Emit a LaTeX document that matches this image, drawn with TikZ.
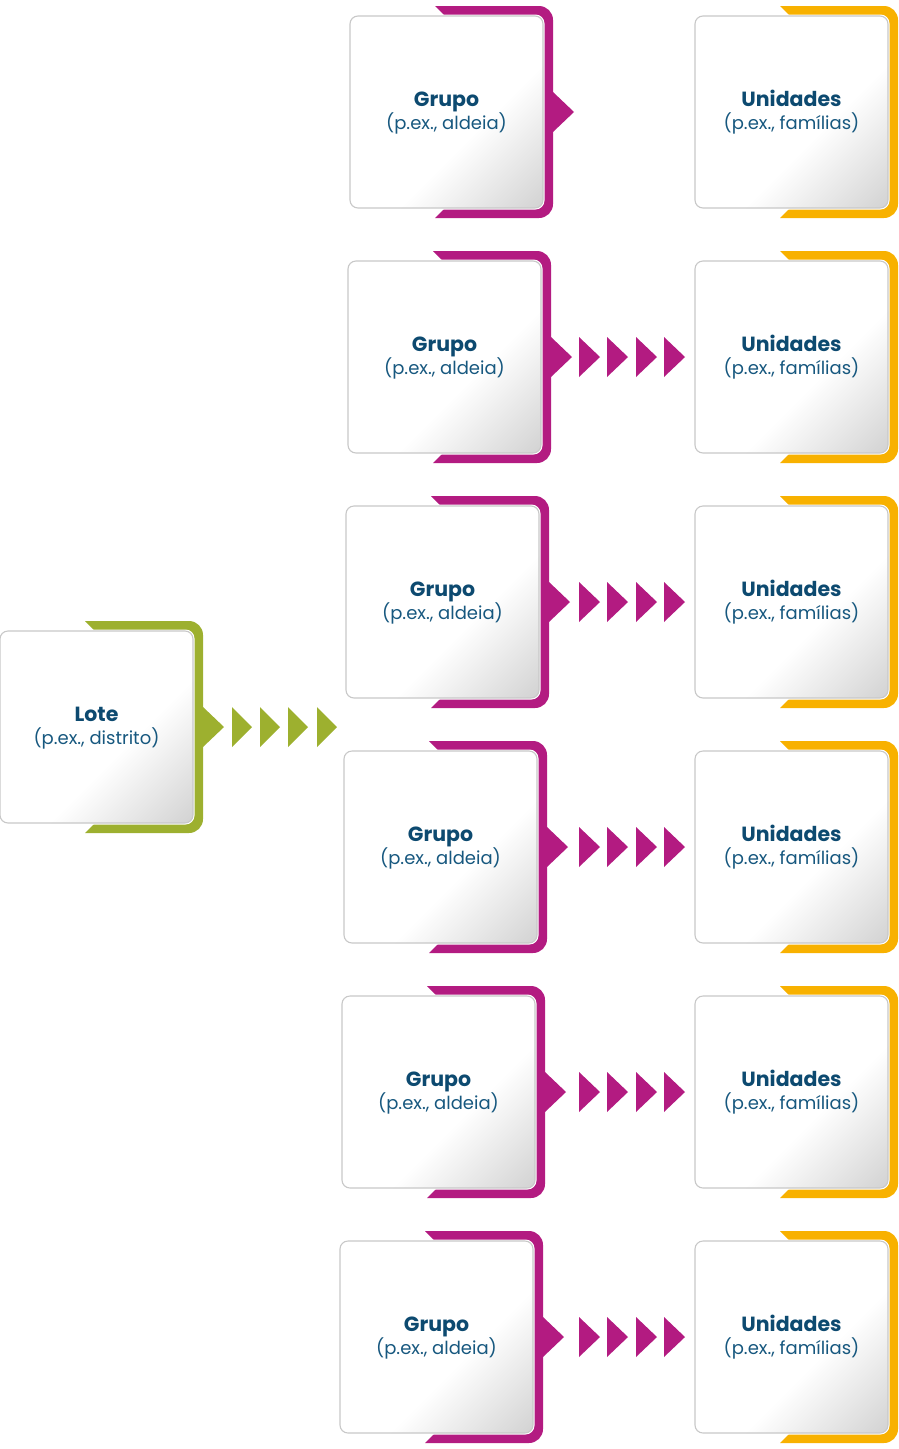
\documentclass[tikz,border=0pt]{standalone}
\usepackage{fontspec}
\setmainfont{Poppins}
\definecolor{magenta}{HTML}{B31B81}
\definecolor{lime}{HTML}{9DB02F}
\definecolor{amber}{HTML}{F8B100}
\definecolor{navy}{HTML}{0D4A70}
\definecolor{navylight}{HTML}{17587F}
\definecolor{boxline}{HTML}{C8C8C8}
\pgfdeclareverticalshading{boxshade}{100bp}{color(0bp)=(black!20); color(14bp)=(black!18); color(41bp)=(white); color(100bp)=(white)}
\tikzset{
  tilebox/.style={draw=boxline, line width=1.1pt, rounded corners=8pt, shading=boxshade, shading angle=45, minimum width=193pt, minimum height=192pt, inner sep=0pt},
  titlest/.style={anchor=base, inner sep=0pt, text=navy, font=\fontsize{20.5}{22}\selectfont\bfseries},
  subst/.style={anchor=base, inner sep=0pt, text=navylight, font=\fontsize{18}{20}\selectfont},
}
% #1 L, #2 T, #3 colour, #4 notch depth, #5 name, #6 title, #7 subtitle
\newcommand{\tile}[7]{%
  \pgfmathsetmacro{\R}{#1+193}%
  \pgfmathsetmacro{\B}{#2+192}%
  \pgfmathsetmacro{\cy}{#2+96}%
  \pgfmathsetmacro{\cx}{#1+96.5}%
  \fill[#3] ({#1+85},{#2-10}) -- ({\R-4},{#2-10}) arc[start angle=-90,end angle=0,radius=14]
    -- ({\R+10},{\cy-20}) -- ({\R+10+#4},\cy) -- ({\R+10},{\cy+20})
    -- ({\R+10},{\B-4}) arc[start angle=0,end angle=90,radius=14]
    -- ({#1+85},{\B+10}) -- ({#1+95},\B) -- ({#1+95},#2) -- cycle;
  \fill[white, rounded corners=9pt] ({#1-1.5},{#2-1.5}) rectangle ({\R+1.5},{\B+1.5});
  \node[tilebox] (#5) at (\cx,\cy) {};
  \node[titlest] (#5-t) at (\cx,{\cy-6}) {#6};
  \node[subst] (#5-s) at (\cx,{\cy+17}) {#7};
}
% #1 x start, #2 cy, #3 colour, #4 width
\newcommand{\chev}[4]{%
  \fill[#3] (#1,{#2-20}) -- ({#1+#4},#2) -- (#1,{#2+20}) -- cycle;
}
\begin{document}
\begin{tikzpicture}[x=1pt,y=-1pt]
\useasboundingbox (0,0) rectangle (899,1449);
% Lote
\tile{0}{631}{lime}{21}{lote}{Lote}{(p.ex., distrito)}
\foreach \xs in {232,260,288,317} {\chev{\xs}{727}{lime}{20}}
% Rows
\foreach \i in {1,...,6} {
  \pgfmathsetmacro{\gl}{352-2*\i}
  \pgfmathsetmacro{\tt}{16+245*(\i-1)}
  \tile{\gl}{\tt}{magenta}{21}{grupo\i}{Grupo}{(p.ex., aldeia)}
  \tile{695}{\tt}{amber}{0}{unid\i}{Unidades}{(p.ex., famílias)}
}
\foreach \i in {2,...,6} {
  \pgfmathsetmacro{\cyy}{112+245*(\i-1)}
  \foreach \xs in {579,607,636,664} {\chev{\xs}{\cyy}{magenta}{21}}
}
\end{tikzpicture}
\end{document}
